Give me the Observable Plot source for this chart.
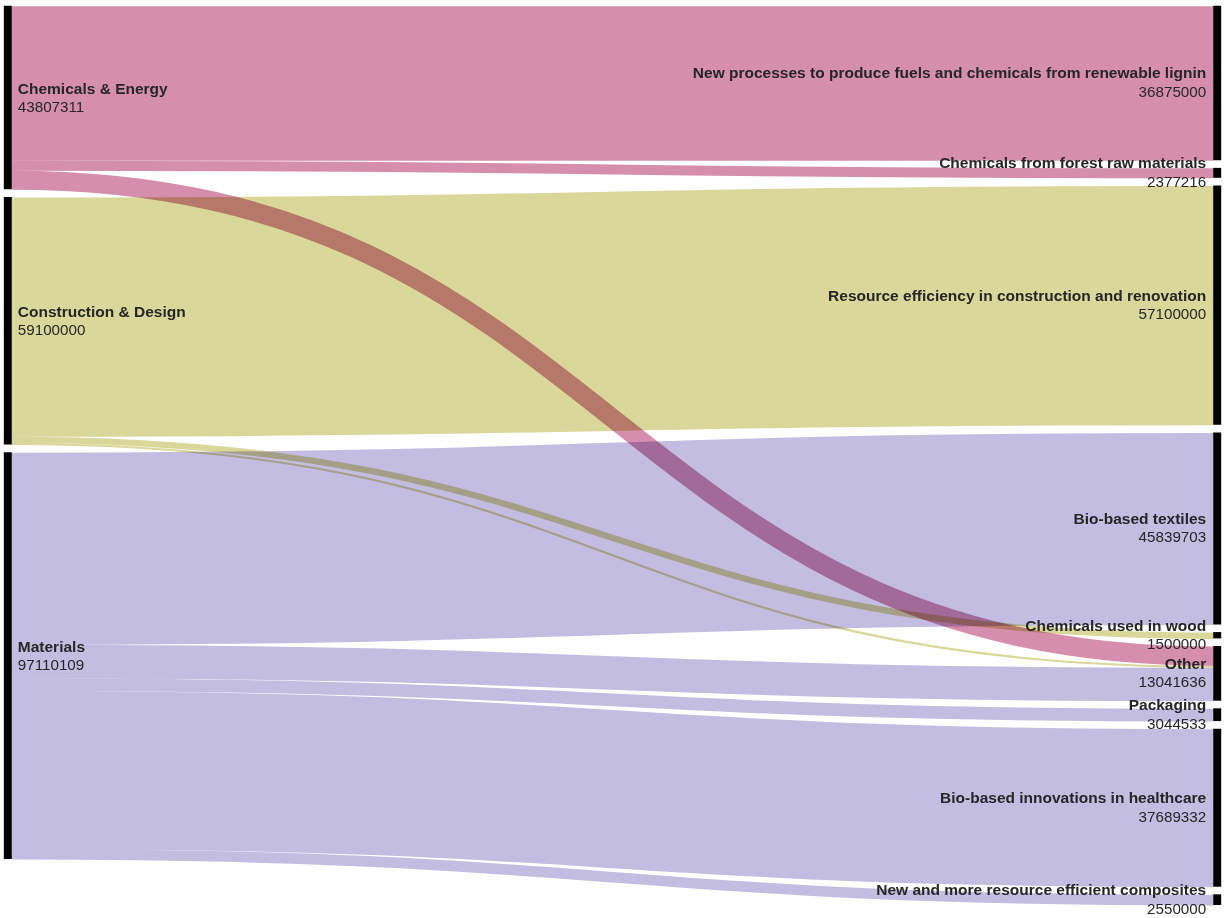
<!DOCTYPE html>
<html>
<head>
<meta charset="utf-8">
<script src="https://cdn.jsdelivr.net/npm/d3@7"></script>
<script src="https://cdn.jsdelivr.net/npm/@observablehq/plot@0.6"></script>
<style>
  html, body { margin: 0; padding: 0; background: #fff; }
</style>
</head>
<body>
<div id="chart"></div>
<script>
// ---- Data ----
const sourceNames = ["Chemicals & Energy", "Construction & Design", "Materials"];
const targetNames = [
  "New processes to produce fuels and chemicals from renewable lignin",
  "Chemicals from forest raw materials",
  "Resource efficiency in construction and renovation",
  "Bio-based textiles",
  "Chemicals used in wood",
  "Other",
  "Packaging",
  "Bio-based innovations in healthcare",
  "New and more resource efficient composites"
];
const linkSource = [
  "Chemicals & Energy", "Chemicals & Energy", "Chemicals & Energy",
  "Construction & Design", "Construction & Design", "Construction & Design",
  "Materials", "Materials", "Materials", "Materials", "Materials"
];
const linkTarget = [
  "New processes to produce fuels and chemicals from renewable lignin",
  "Chemicals from forest raw materials",
  "Other",
  "Resource efficiency in construction and renovation",
  "Chemicals used in wood",
  "Other",
  "Bio-based textiles",
  "Other",
  "Packaging",
  "Bio-based innovations in healthcare",
  "New and more resource efficient composites"
];
const linkValue = [
  36875000, 2377216, 4555095,
  57100000, 1500000, 500000,
  45839703, 7986541, 3044533, 37689332, 2550000
];
const sourceColors = ["#d58fad", "#dad79a", "#c2bde1"];

// ---- Layout (sankey, computed in value units) ----
const links = linkValue.map((value, i) => ({
  source: linkSource[i], target: linkTarget[i], value,
  color: sourceColors[sourceNames.indexOf(linkSource[i])]
}));
const total = d3.sum(linkValue);
const topPx = 5.7, bottomPx = 905, padPx = 7.65;
const ky = (bottomPx - topPx - (targetNames.length - 1) * padPx) / total;
const pad = padPx / ky;

function layoutColumn(names, key, col) {
  let y = 0;
  return names.map(name => {
    const value = d3.sum(links.filter(l => l[key] === name), l => l.value);
    const node = {name, value, col, y0: y, y1: y + value};
    y += value + pad;
    return node;
  });
}
const sNodes = layoutColumn(sourceNames, "source", 0);
const tNodes = layoutColumn(targetNames, "target", 1);
for (const n of sNodes) {
  let y = n.y0;
  links.filter(l => l.source === n.name)
    .sort((a, b) => targetNames.indexOf(a.target) - targetNames.indexOf(b.target))
    .forEach(l => { l.ys = y + l.value / 2; y += l.value; });
}
for (const n of tNodes) {
  let y = n.y0;
  links.filter(l => l.target === n.name)
    .sort((a, b) => sourceNames.indexOf(a.source) - sourceNames.indexOf(b.source))
    .forEach(l => { l.yt = y + l.value / 2; y += l.value; });
}
links.forEach(l => { l.xs = 0; l.xt = 1; l.w = l.value * ky; });

const font = "'Liberation Sans', Arial, Helvetica, sans-serif";
const mid = d => (d.y0 + d.y1) / 2;

const chart = Plot.plot({
  width: 1225,
  height: 918,
  margin: 0,
  x: {domain: [0, 1], range: [11.3, 1212.7], axis: null},
  y: {domain: [0, total + (targetNames.length - 1) * pad], range: [topPx, bottomPx], axis: null},
  color: {type: "identity"},
  style: {fontFamily: font, background: "#fff", overflow: "visible"},
  marks: [
    Plot.link(links, {
      x1: "xs", x2: "xt", y1: "ys", y2: "yt",
      stroke: "color", strokeWidth: "w", curve: "bump-x",
      mixBlendMode: "multiply", strokeOpacity: 1
    }),
    Plot.ruleX(sNodes, {x: "col", y1: "y0", y2: "y1", stroke: "#000", strokeWidth: 8, dx: -4}),
    Plot.ruleX(tNodes, {x: "col", y1: "y0", y2: "y1", stroke: "#000", strokeWidth: 8, dx: 4}),
    Plot.text(sNodes, {x: "col", y: mid, text: "name", textAnchor: "start", lineAnchor: "bottom",
      dx: 6, dy: -4, fontSize: 15.5, fontWeight: "bold", fill: "#262626"}),
    Plot.text(sNodes, {x: "col", y: mid, text: d => String(d.value), textAnchor: "start", lineAnchor: "bottom",
      dx: 6, dy: 14, fontSize: 15.2, fill: "#262626"}),
    Plot.text(tNodes, {x: "col", y: mid, text: "name", textAnchor: "end", lineAnchor: "bottom",
      dx: -7, dy: -5, fontSize: 15.5, fontWeight: "bold", fill: "#262626"}),
    Plot.text(tNodes, {x: "col", y: mid, text: d => String(d.value), textAnchor: "end", lineAnchor: "bottom",
      dx: -7, dy: 13.5, fontSize: 15.2, fill: "#262626"})
  ]
});
document.getElementById("chart").appendChild(chart);
</script>
</body>
</html>
